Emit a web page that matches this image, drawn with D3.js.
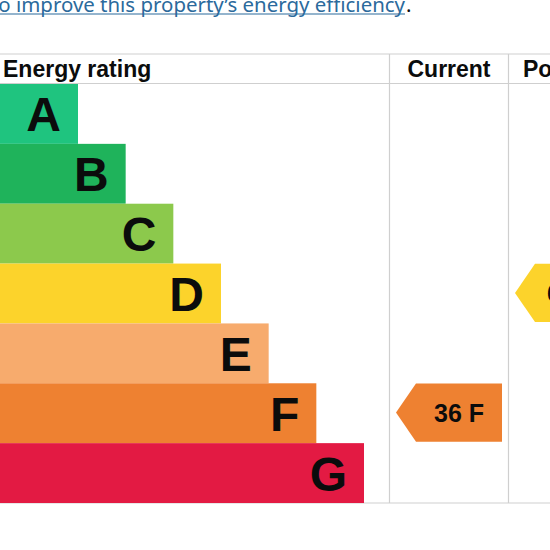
<!DOCTYPE html>
<html>
<head>
<meta charset="utf-8">
<script src="https://cdn.jsdelivr.net/npm/d3@7"></script>
<style>
  html, body { margin: 0; padding: 0; background: #fff; }
  svg { display: block; }
</style>
</head>
<body>
<svg id="chart" width="550" height="550"></svg>
<script>
// ---- data ----
const bands = ["A", "B", "C", "D", "E", "F", "G"];
const bandColors = ["#1fc47f", "#1fb35b", "#8cc94c", "#fcd32b", "#f7ab6d", "#ee8131", "#e31a43"];
const columnTitles = ["Energy rating", "Current", "Potential"];
const currentScore = 36;
const currentBand = "F";
const potentialScore = 68;
const potentialBand = "D";
const introText = "to improve this property\u2019s energy efficiency";

const svg = d3.select("#chart");
const font = "'Liberation Sans', Arial, sans-serif";
const introFont = "'Noto Sans', 'Open Sans', sans-serif";

// scales
const y = d3.scaleBand().domain(bands).range([84, 503]).padding(0);
const barW = d3.scaleLinear().domain([0, bands.length - 1]).range([78, 364]);
const colX = { currentL: 389.5, currentR: 508.5 };

// intro link text (cut at left): fit "o improve ... efficiency" into [0, 405]
const probe = svg.append("text").attr("font-family", introFont).attr("font-size", 20)
  .text(introText.slice(1));
const probeW = probe.node().getComputedTextLength();
probe.remove();
const introSize = 20 * 407 / probeW;
const intro = svg.append("text")
  .attr("y", 12)
  .attr("font-family", introFont)
  .attr("font-size", introSize)
  .attr("fill", "#2b6a9c")
  .text(introText);
const iw = intro.node().getComputedTextLength();
intro.attr("x", 405 - iw);
svg.append("line").attr("x1", 0).attr("x2", 405).attr("y1", 14).attr("y2", 14)
  .attr("stroke", "#2b6a9c").attr("stroke-width", 1.2);
svg.append("text").attr("x", 406).attr("y", 12)
  .attr("font-family", introFont)
  .attr("font-size", introSize).attr("fill", "#0b0c0c").text(".");

// table lines
const grid = svg.append("g").attr("stroke", "#cfcfcf").attr("stroke-width", 1.2);
grid.append("line").attr("x1", 0).attr("x2", 550).attr("y1", 54).attr("y2", 54);
grid.append("line").attr("x1", 0).attr("x2", 550).attr("y1", 83.5).attr("y2", 83.5);
grid.append("line").attr("x1", 0).attr("x2", 550).attr("y1", 503).attr("y2", 503);
grid.append("line").attr("x1", colX.currentL).attr("x2", colX.currentL).attr("y1", 54).attr("y2", 503);
grid.append("line").attr("x1", colX.currentR).attr("x2", colX.currentR).attr("y1", 54).attr("y2", 503);

// headers
const hdr = svg.append("g").attr("font-family", font).attr("font-weight", "bold")
  .attr("font-size", 23).attr("fill", "#0b0c0c");
hdr.append("text").attr("x", 3).attr("y", 77).text(columnTitles[0]);
hdr.append("text").attr("x", (colX.currentL + colX.currentR) / 2).attr("y", 77)
  .attr("text-anchor", "middle").text(columnTitles[1]);
hdr.append("text").attr("x", 523).attr("y", 77).text(columnTitles[2]);

// bars
const bars = svg.append("g");
bars.selectAll("rect").data(bands).join("rect")
  .attr("x", 0)
  .attr("y", d => y(d))
  .attr("width", (d, i) => barW(i))
  .attr("height", y.bandwidth())
  .attr("fill", (d, i) => bandColors[i]);
bars.selectAll("text").data(bands).join("text")
  .attr("x", (d, i) => barW(i) - 17)
  .attr("y", d => y(d) + y.bandwidth() / 2 + 17.5)
  .attr("text-anchor", "end")
  .attr("font-family", font).attr("font-weight", "bold")
  .attr("font-size", 48).attr("fill", "#0b0c0c")
  .text(d => d);

// arrows
function arrow(score, band, x0, x1) {
  const top = y(band) + 0.3, bot = y(band) + y.bandwidth() - 1.5;
  const cy = (top + bot) / 2, sh = x0 + 20;
  const col = bandColors[bands.indexOf(band)];
  svg.append("path")
    .attr("d", `M${x0},${cy}L${sh},${top}L${x1},${top}L${x1},${bot}L${sh},${bot}Z`)
    .attr("fill", col);
  svg.append("text")
    .attr("x", (sh + x1) / 2).attr("y", cy + 9)
    .attr("text-anchor", "middle")
    .attr("font-family", font).attr("font-weight", "bold")
    .attr("font-size", 25).attr("fill", "#0b0c0c")
    .text(`${score} ${band}`);
}
arrow(currentScore, currentBand, 396, 502);
arrow(potentialScore, potentialBand, 515, 612);
</script>
</body>
</html>
